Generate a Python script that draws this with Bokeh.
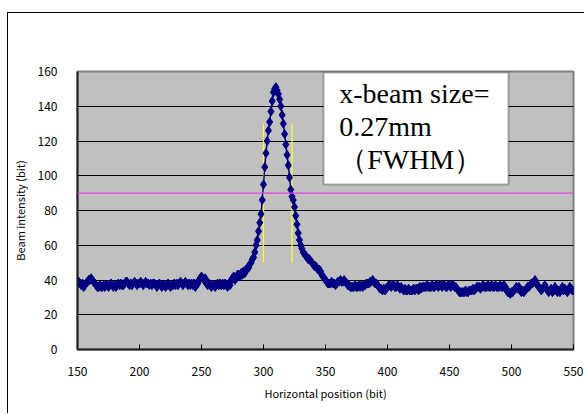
from bokeh.plotting import figure
from bokeh.models import Span, BoxAnnotation, Label, FixedTicker, Range1d, ColumnDataSource
from bokeh.embed import file_html
from bokeh.resources import INLINE

# ---- data ----
x_start = 150
intensity = [
    38, 39, 38, 37, 38, 36, 37, 38, 39, 40,
    40, 41, 40, 39, 38, 37, 36, 36, 37, 36,
    36, 37, 36, 37, 37, 36, 37, 38, 37, 36,
    37, 36, 37, 38, 37, 38, 37, 37, 38, 39,
    39, 38, 37, 38, 37, 38, 39, 38, 37, 38,
    38, 39, 38, 37, 38, 39, 38, 38, 37, 38,
    37, 38, 38, 37, 36, 37, 38, 37, 36, 37,
    37, 36, 37, 38, 37, 36, 37, 37, 38, 37,
    38, 37, 38, 39, 38, 37, 38, 39, 38, 37,
    38, 37, 38, 37, 38, 36, 37, 38, 40, 41,
    42, 41, 40, 41, 38, 37, 38, 37, 36, 37,
    37, 36, 37, 38, 37, 38, 37, 38, 37, 38,
    37, 36, 38, 37, 40, 41, 42, 40, 41, 43,
    43, 42, 44, 43, 45, 44, 46, 47, 47, 49,
    50, 52, 53, 56, 60, 63, 68, 73, 78, 86,
    95, 105, 113, 120, 126, 131, 137, 143, 148, 150,
    151, 149, 147, 144, 140, 135, 130, 124, 118, 112,
    106, 99, 92, 88, 86, 82, 77, 72, 67, 63,
    60, 58, 56, 55, 54, 53, 52, 52, 51, 50,
    49, 48, 48, 47, 46, 46, 45, 43, 42, 41,
    40, 39, 38, 38, 38, 39, 38, 38, 37, 38,
    39, 39, 40, 39, 39, 40, 39, 38, 37, 37,
    36, 36, 36, 36, 37, 36, 36, 37, 36, 37,
    36, 37, 37, 38, 38, 38, 39, 39, 40, 39,
    38, 38, 37, 36, 35, 35, 34, 35, 34, 35,
    36, 37, 37, 36, 37, 37, 36, 36, 37, 36,
    35, 36, 35, 34, 35, 34, 34, 35, 34, 34,
    34, 35, 34, 35, 35, 34, 36, 35, 36, 36,
    36, 36, 37, 36, 36, 36, 37, 36, 36, 37,
    37, 36, 37, 37, 36, 37, 37, 36, 36, 37,
    37, 36, 37, 37, 36, 36, 35, 34, 33, 33,
    33, 33, 33, 34, 33, 33, 34, 34, 34, 35,
    34, 35, 36, 36, 36, 35, 36, 37, 36, 36,
    36, 37, 36, 36, 37, 36, 36, 37, 36, 36,
    36, 37, 36, 36, 37, 36, 34, 33, 33, 32,
    33, 33, 34, 35, 36, 35, 36, 34, 33, 34,
    33, 34, 35, 36, 36, 37, 38, 38, 39, 40,
    38, 37, 36, 35, 34, 35, 36, 37, 35, 34,
    33, 34, 35, 33, 34, 36, 35, 33, 34, 33,
    34, 36, 34, 35, 34, 33, 34, 36, 35, 34,
    34,
]
position = list(range(x_start, x_start + len(intensity)))

x_ticks = [150, 200, 250, 300, 350, 400, 450, 500, 550]
y_ticks = [0, 20, 40, 60, 80, 100, 120, 140, 160]
half_max_level = 90
fwhm_edges = [300, 323]
fwhm_marker_bottom = [50, 50]
fwhm_marker_top = [130, 130]
box_lines = ["x-beam size=", "0.27mm", "（FWHM）"]

tick_font = "Noto Sans CJK JP"
navy = "#000080"

p = figure(
    output_backend="svg", toolbar_location=None,
    frame_width=496, frame_height=278,
    min_border_left=69, min_border_right=11, min_border_top=58, min_border_bottom=64,
    x_range=Range1d(150, 550), y_range=Range1d(0, 160),
    background_fill_color="#C0C0C0", border_fill_color="white",
    styles={"border-top": "1px solid black", "border-left": "1px solid black",
            "margin-top": "12px", "margin-left": "7px"},
)
p.outline_line_color = "#808080"
p.outline_line_width = 2

# grid
p.xgrid.grid_line_color = None
p.ygrid.grid_line_color = "black"
p.ygrid.grid_line_width = 1
p.ygrid.ticker = FixedTicker(ticks=y_ticks)

# axes
p.xaxis.ticker = FixedTicker(ticks=x_ticks)
p.yaxis.ticker = FixedTicker(ticks=y_ticks)
for ax in (p.xaxis[0], p.yaxis[0]):
    ax.major_label_text_font = tick_font
    ax.major_label_text_font_size = "12px"
    ax.major_label_text_color = "black"
    ax.axis_label_text_font = tick_font
    ax.axis_label_text_font_size = "11px"
    ax.axis_label_text_font_style = "normal"
    ax.axis_label_text_color = "black"
    ax.minor_tick_line_color = None
    ax.axis_line_color = "#202020"
    ax.axis_line_width = 2
p.xaxis.major_tick_in = 5
p.xaxis.major_tick_out = 0
p.xaxis.major_tick_line_color = "black"
p.xaxis.major_label_standoff = 17
p.xaxis.axis_label = "Horizontal position (bit)"
p.xaxis.axis_label_standoff = 6
p.yaxis.major_tick_line_color = None
p.yaxis.major_tick_in = 0
p.yaxis.major_tick_out = 0
p.yaxis.major_label_standoff = 20
p.yaxis.axis_label = "Beam intensity (bit)"
p.yaxis.axis_label_standoff = 7

# half-maximum line
p.add_layout(Span(location=half_max_level, dimension="width",
                  line_color="#E040E0", line_width=1.2))

# FWHM edge markers
p.segment(x0=fwhm_edges, y0=fwhm_marker_bottom, x1=fwhm_edges, y1=fwhm_marker_top,
          line_color="#FFFF30", line_width=1.2)

# profile
src = ColumnDataSource(dict(x=position, y=intensity))
p.line("x", "y", source=src, line_color=navy, line_width=1.5)
p.scatter("x", "y", source=src, marker="diamond", size=9,
          fill_color=navy, line_color=navy)

# annotation box
p.add_layout(BoxAnnotation(left=348.4, right=497.6, bottom=95, top=159.4,
                           fill_color="white", fill_alpha=1.0,
                           line_color="black", line_width=2, level="annotation"))
for txt, yy in zip(box_lines, [147.3, 128.3, 109.4]):
    p.add_layout(Label(x=361, y=yy, text=txt, text_font="Liberation Serif",
                       text_font_size="28px", text_baseline="middle",
                       text_color="black"))

open("out.html", "w").write(file_html(p, INLINE))
